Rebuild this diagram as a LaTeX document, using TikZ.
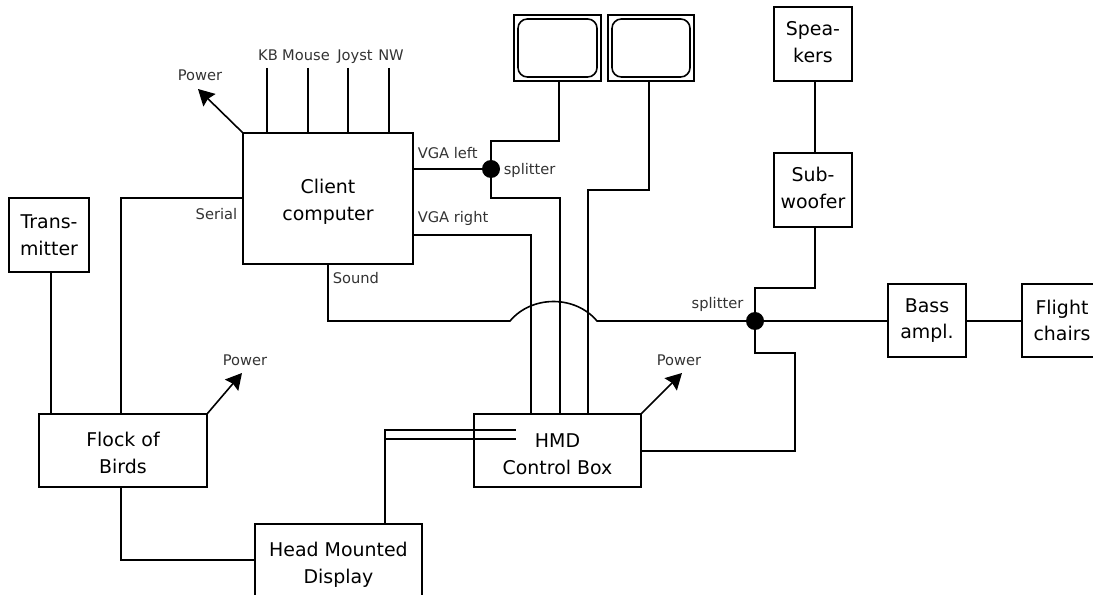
\documentclass[tikz,border=0pt]{standalone}
\usepackage{fontspec}
\setmainfont{DejaVu Sans}
\usetikzlibrary{arrows.meta, positioning, calc}

\begin{document}
\begin{tikzpicture}[
    x=0.75pt, y=-0.75pt,
    line width=1.2pt,
    flow/.style={-{Stealth[length=12pt, width=13pt, inset=1.5pt]}},
    box/.style={draw, align=center, outer sep=0pt, inner sep=0pt, font=\fontsize{14.2}{20}\selectfont},
    textdrop/.style={execute at begin node=\rule{0pt}{#1}},
    textlift/.style={execute at begin node=\rule[-#1]{0pt}{#1}},
    unit/.style={box, minimum width=58.5pt, minimum height=55.5pt},
    wide/.style={box, minimum width=125.25pt, minimum height=54.75pt},
    screenbox/.style={draw, outer sep=0pt, inner sep=0pt, minimum width=64.5pt, minimum height=49.5pt},
    screeninner/.style={draw, rounded corners=7pt, inner sep=0pt, minimum width=58.5pt, minimum height=43.5pt},
    tag/.style={font=\fontsize{11}{13}\selectfont, inner sep=0pt, text=black!80, anchor=base},
    dot/.style={circle, fill=black, draw=none, minimum size=13.5pt, inner sep=0pt, outer sep=0pt},
]
\clip (0,0) rectangle (1093,595);
\useasboundingbox (0,0) rectangle (1093,595);

% boxes
\node[box, textdrop=36pt, minimum width=127.5pt, minimum height=98.25pt] (client) at (328,198.5) {Client\\computer};
\node[unit, minimum width=60pt] (trans) at (49,235) {Trans-\\mitter};
\node[wide, textdrop=34pt, minimum width=126pt] (flock) at (123,450.5) {Flock of\\Birds};
\node[wide, textdrop=38pt, minimum height=54pt] (head) at (338.5,560) {Head Mounted\\Display};
\node[wide, textdrop=36pt] (ctrl) at (557.5,450.5) {HMD\\Control Box};
\node[unit, textlift=3pt] (speak) at (813,44) {Spea-\\kers};
\node[unit, textlift=3pt, below=54pt of speak] (sub) {Sub-\\woofer};
\node[unit, minimum height=54.75pt] (bass) at (927,320.5) {Bass\\ampl.};
\node[unit, minimum height=54.75pt, minimum width=60pt, right=42pt of bass] (chairs) {Flight\\chairs};

% monitors
\node[screenbox, minimum width=65.25pt] (monL) at (557.5,48) {};
\node[screeninner, minimum width=59.25pt] (scrL) at (monL.center) {};
\node[screenbox] (monR) at (651,48) {};
\node[screeninner] (scrR) at (monR.center) {};

% splitters
\node[dot] (splitA) at (491,169) {};
\node[dot] (splitB) at (755,321) {};

% labels
\node[tag, anchor=base west] (splitAtag) at (503,175) {splitter};
\node[tag] (splitBtag) at (717.5,309) {splitter};
\node[tag, anchor=base west] (vgaL) at (417,159) {VGA left};
\node[tag, anchor=base west] (vgaR) at (417,223) {VGA right};
\node[tag, anchor=base east] (serial) at (238,220) {Serial};
\node[tag, anchor=base west] (sound) at (332,284) {Sound};
\node[tag] (kb) at (268,61) {KB};
\node[tag] (mouse) at (306,61) {Mouse};
\node[tag] (joyst) at (355,61) {Joyst};
\node[tag] (nw) at (391,61) {NW};
\node[tag] (powC) at (200,81) {Power};
\node[tag] (powF) at (245,366) {Power};
\node[tag] (powH) at (679,366) {Power};

% free ends and bends
\coordinate (kbEnd) at (267,68);
\coordinate (mouseEnd) at (308,68);
\coordinate (joystEnd) at (348,68);
\coordinate (nwEnd) at (389,68);
\coordinate (powCEnd) at (198,89);
\coordinate (powFEnd) at (242,373);
\coordinate (powHEnd) at (682,373);
\coordinate (serialY) at (121,198);
\coordinate (soundY) at (328,321);
\coordinate (jumpL) at (510,321);
\coordinate (jumpR) at (597,321);
\coordinate (vgaY) at (531,235);
\coordinate (upA) at (491,141);
\coordinate (upAb) at (559,141);
\coordinate (downA) at (491,198);
\coordinate (feedL) at (560,198);
\coordinate (feedR) at (649,190);
\coordinate (feedRb) at (588,190);
\coordinate (upB) at (755,288);
\coordinate (upBb) at (815,288);
\coordinate (downB) at (755,353);
\coordinate (ctrlY) at (795,451);
\coordinate (hmdA) at (516,430);
\coordinate (hmdB) at (516,439);
\coordinate (headX) at (385,430);
\coordinate (headXb) at (385,439);
\coordinate (transX) at (51,272);

% connections
\foreach \wire in {kbEnd, mouseEnd, joystEnd, nwEnd}
    \draw (\wire) -- (\wire |- client.north);
\draw[flow] (client.north west) -- (powCEnd);
\draw[flow] (flock.north east) -- (powFEnd);
\draw[flow] (ctrl.north east) -- (powHEnd);
\draw (client.east |- splitA) -- (splitA);
\draw (monL.south -| upAb) -- (upAb) -- (upA) -- (splitA);
\draw (splitA) -- (downA) -- (feedL) -- (feedL |- ctrl.north);
\draw (monR.south -| feedR) -- (feedR) -- (feedRb) -- (feedRb |- ctrl.north);
\draw (client.east |- vgaY) -- (vgaY) -- (vgaY |- ctrl.north);
\draw (client.south -| soundY) -- (soundY) -- (jumpL) to[bend left=50] (jumpR) -- (splitB);
\draw (splitB) -- (upB) -- (upBb) -- (upBb |- sub.south);
\draw (sub.north -| upBb) -- (speak.south -| upBb);
\draw (splitB) -- (bass.west |- splitB);
\draw (bass.east |- splitB) -- (chairs.west |- splitB);
\draw (splitB) -- (downB) -| (ctrlY) -- (ctrl.east |- ctrlY);
\draw (transX) -- (transX |- flock.north);
\draw (flock.north -| serialY) -- (serialY) -- (client.west |- serialY);
\draw (flock.south -| serialY) |- (head.west);
\draw (head.north -| headX) -- (headX) -- (hmdA);
\draw (headXb) -- (hmdB);

\end{tikzpicture}
\end{document}
